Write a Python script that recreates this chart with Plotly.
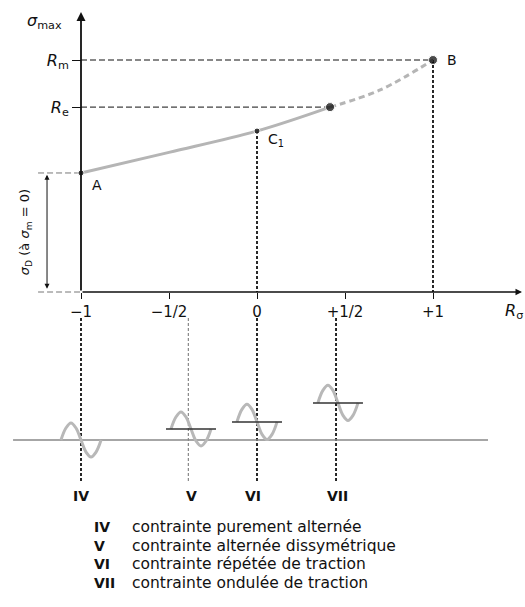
import plotly.graph_objects as go

# ---------------- data ----------------
R_ticks = [-1, -0.5, 0, 0.5, 1]
R_tick_text = ["\u22121", "\u22121/2", "0", "+1/2", "+1"]

Rm = 1.0
Re = 0.797
sigma_D = 0.513
sigma_C1 = 0.694
R_e_point = 0.415

y_tick_vals = [Re, Rm]
y_tick_text = ["<i>R</i><sub>e</sub>", "<i>R</i><sub>m</sub>"]

curve_solid_R = [-1, -0.5, 0, 0.415]
curve_solid_s = [0.513, 0.602, 0.694, 0.797]
curve_dash_R = [0.415, 0.7, 1.0]
curve_dash_s = [0.797, 0.871, 1.0]

point_R = [-1, 0, 0.415, 1]
point_s = [0.513, 0.694, 0.797, 1.0]
point_size = [6, 6, 9, 9]

case_labels = ["IV", "V", "VI", "VII"]
case_R = [-1.0, -0.39, 0.0, 0.449]
case_label_R = [-1.0, -0.375, -0.02, 0.46]
wave_center = [-1.0, -0.375, 0.0, 0.46]
wave_mean = [-0.638, -0.5905, -0.560, -0.478]
wave_amp = [0.073, 0.073, 0.076, 0.076]
mean_line_shown = [False, True, True, True]

# normalised sketch of one stress cycle (glyph)
wave_shape_x = [-1, -0.75, -0.5, -0.25, 0, 0.25, 0.5, 0.75, 1]
wave_shape_y = [0, 0.71, 1, 0.71, 0, -0.71, -1, -0.71, 0]

legend_numerals = ["IV", "V", "VI", "VII"]
legend_texts = [
    "contrainte purement altern\u00e9e",
    "contrainte altern\u00e9e dissym\u00e9trique",
    "contrainte r\u00e9p\u00e9t\u00e9e de traction",
    "contrainte ondul\u00e9e de traction",
]
legend_s = [-1.013, -1.095, -1.174, -1.254]

# ---------------- figure ----------------
W, H = 525, 607
px_per_R = 176.0
px_per_s = 232.0
x0_px, y0_px = 81.0, 292.0
x_range = [-1 - x0_px / px_per_R, -1 + (W - x0_px) / px_per_R]
y_range = [-(H - y0_px) / px_per_s, y0_px / px_per_s]

FONT = "DejaVu Sans"
fig = go.Figure()

def line(xs, ys, color="#111", width=1, dash="6px,3px"):
    fig.add_trace(go.Scatter(x=xs, y=ys, mode="lines", hoverinfo="skip",
                             line=dict(color=color, width=width, dash=dash)))

# guide lines (horizontal dashed)
line([-1, 1], [Rm, Rm])
line([-1, R_e_point], [Re, Re])
line([-1.244, -1], [sigma_D, sigma_D], color="#777")
line([-1.244, -1], [0, 0], color="#777")

# vertical dotted drops
line([0, 0], [sigma_C1, 0], width=1.8, dash="3px,2px")
line([1, 1], [Rm, 0], width=1.8, dash="3px,2px")

# curve
fig.add_trace(go.Scatter(x=curve_solid_R, y=curve_solid_s, mode="lines",
                         line=dict(color="#b5b5b5", width=3, shape="spline"), hoverinfo="skip"))
fig.add_trace(go.Scatter(x=curve_dash_R, y=curve_dash_s, mode="lines",
                         line=dict(color="#b5b5b5", width=3, shape="spline", dash="6px,4px"),
                         hoverinfo="skip"))
fig.add_trace(go.Scatter(x=point_R, y=point_s, mode="markers",
                         marker=dict(color="#000", size=point_size), hoverinfo="skip"))

# lower part: verticals
for i, r in enumerate(case_R):
    if case_labels[i] == "V":
        line([r, r], [-0.112, -0.819], color="#888", width=1.2, dash="3px,2px")
    else:
        line([r, r], [-0.112, -0.819], width=1.8, dash="3px,2px")

# baseline
line([-1.386, 1.3125], [-0.638, -0.638], color="#888", width=1.5, dash="solid")

# waves
for c, m, a, show in zip(wave_center, wave_mean, wave_amp, mean_line_shown):
    xs = [c + 0.114 * sx for sx in wave_shape_x]
    ys = [m + a * sy for sy in wave_shape_y]
    fig.add_trace(go.Scatter(x=xs, y=ys, mode="lines", hoverinfo="skip",
                             line=dict(color="#b8b8b8", width=3, shape="spline")))
    if show:
        line([c - 0.142, c + 0.142], [m, m], color="#333", width=1.5, dash="solid")

ann = []
# axis arrows
ann.append(dict(x=x_range[1] - 0.017, y=0, ax=-1, ay=0, xref="x", yref="y", axref="x", ayref="y",
                text="", showarrow=True, arrowhead=2, arrowsize=1, arrowwidth=1.3, arrowcolor="#111"))
ann.append(dict(x=-1, y=1.207, ax=-1, ay=0, xref="x", yref="y", axref="x", ayref="y",
                text="", showarrow=True, arrowhead=2, arrowsize=1, arrowwidth=1.8, arrowcolor="#111"))
ann.append(dict(x=-1.193, y=0.505, ax=-1.193, ay=0.008, xref="x", yref="y", axref="x", ayref="y",
                text="", showarrow=True, arrowhead=2, arrowside="end+start", arrowsize=1,
                arrowwidth=1, arrowcolor="#111"))

def txt(x, y, t, size=15, xanchor="center", **kw):
    ann.append(dict(x=x, y=y, xref="x", yref="y", text=t, showarrow=False, xanchor=xanchor,
                    yanchor="middle", font=dict(family=FONT, size=size, color="#111"), **kw))

txt(-1.205, 1.164, "<i>\u03c3</i><sub>max</sub>", size=16)
txt(1.40, -0.082, "<i>R</i><sub>\u03c3</sub>", size=16, xanchor="left")
txt(-0.95, 0.462, "A", size=14, xanchor="left")
txt(0.05, 0.655, "C<sub>1</sub>", size=14, xanchor="left")
txt(1.068, 1.0, "B", size=14, xanchor="left")
txt(-1.318, 0.258, "<i>\u03c3</i><sub>D</sub> (\u00e0 <i>\u03c3</i><sub>m</sub> = 0)", size=13,
    textangle=-90)

for lab, r in zip(case_labels, case_label_R):
    txt(r, -0.879, "<b>" + lab + "</b>", size=14)

for num, t, s in zip(legend_numerals, legend_texts, legend_s):
    txt(-0.9375, s, "<b>" + num + "</b>", size=14, xanchor="left")
    txt(-0.7216, s, t, size=15.5, xanchor="left")

fig.update_layout(
    width=W, height=H, autosize=False,
    margin=dict(l=0, r=0, t=0, b=0, autoexpand=False),
    paper_bgcolor="white", plot_bgcolor="white",
    showlegend=False,
    annotations=ann,
    xaxis=dict(range=x_range, domain=[0, 1], anchor="free", position=1 - y0_px / H,
               tickvals=R_ticks, ticktext=R_tick_text, ticks="outside", ticklen=6,
               tickwidth=1.3, tickcolor="#111", showgrid=False, zeroline=False, showline=False,
               automargin=False,
               tickfont=dict(family=FONT, size=15, color="#111"), fixedrange=True),
    yaxis=dict(range=y_range, domain=[0, 1], anchor="free", position=x0_px / W,
               tickvals=y_tick_vals, ticktext=y_tick_text, ticks="outside", ticklen=9,
               tickwidth=1.3, tickcolor="#111", showgrid=False, zeroline=False, showline=False,
               automargin=False,
               tickfont=dict(family=FONT, size=16, color="#111"), fixedrange=True),
)

fig.write_html("out.html", config={"displayModeBar": False},
               post_script="document.body.style.margin='0px';document.body.style.padding='0px';")
